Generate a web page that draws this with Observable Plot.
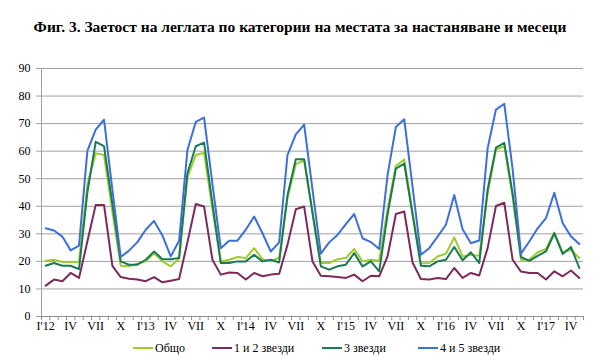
<!DOCTYPE html>
<html><head><meta charset="utf-8">
<script src="https://cdn.jsdelivr.net/npm/d3@7"></script>
<script src="https://cdn.jsdelivr.net/npm/@observablehq/plot@0.6"></script>
<style>
body{margin:0;background:#fff;font-family:"Liberation Serif",serif;color:#000;}
#wrap{position:relative;width:600px;height:362px;overflow:hidden;}
#title{position:absolute;top:18px;left:0;width:600px;text-align:center;font-weight:bold;font-size:15.5px;line-height:18px;font-family:"Liberation Serif",serif;}
#pct{position:absolute;top:42px;left:46px;font-size:11px;color:#333;font-family:"Liberation Serif",serif;}
#chart{position:absolute;top:40px;left:0;}
#chart svg, #chart svg text{font-family:"Liberation Serif",serif !important;}
.leg{position:absolute;top:340px;font-size:12px;display:flex;align-items:center;height:16px;font-family:"Liberation Serif",serif;}
.leg .sw{display:inline-block;width:20px;height:2.5px;margin-right:2px;}
</style></head>
<body><div id="wrap">
<div id="title">Фиг. 3. Заетост на леглата по категории на местата за настаняване и месеци</div>
<div id="pct">%</div>
<div id="chart"></div>
<div id="legend"></div>
</div>
<script>
const tickLabels = ["I'12","IV","VII","X","I'13","IV","VII","X","I'14","IV","VII","X","I'15","IV","VII","X","I'16","IV","VII","X","I'17","IV"];
const seriesNames = ["Общо","1 и 2 звезди","3 звезди","4 и 5 звезди"];
const colors = ["#9ccc2e","#7d2a5a","#1b7a52","#3d6fdc"];
const total = [
 20.2,20.6,19.8,19.8,19.8,48,59.2,58.6,38,18.4,18.2,19.2,
 20.0,23.0,20.0,18.2,21.0,50.5,58.6,59.4,39,20.0,20.6,21.6,
 21.2,24.8,20.8,20.0,21.4,43,55.3,56.7,38,19.4,19.4,20.8,
 21.2,24.5,20.0,20.6,20.2,39,54.6,57.0,38,19.2,19.4,21.8,
 22.8,28.7,21.8,22.4,22.0,44.5,60.6,61.8,43.5,20.6,20.6,23.3,
 24.5,30.5,23.3,24.2,21.2];
const stars12 = [
 11.2,13.4,12.8,15.8,14.0,27.2,40.5,40.5,18.4,14.3,13.7,13.4,
 12.8,14.3,12.4,13.0,13.6,26.9,40.8,39.9,20.6,15.2,16.0,15.8,
 13.4,15.8,14.6,15.2,15.5,26.0,38.9,39.9,20.0,14.8,14.6,14.3,
 14.0,15.2,12.8,14.8,14.6,21.8,37.2,38.1,19.6,13.6,13.4,14.0,
 13.6,17.6,14.0,15.8,14.9,24.8,40.1,41.3,20.6,16.3,15.8,15.8,
 13.4,16.4,14.6,16.7,14.0];
const stars3 = [
 18.4,19.4,18.4,18.4,17.2,45,63.4,61.8,41,20.0,18.8,18.8,
 20.6,23.6,20.8,20.8,21.2,52,61.8,63.1,41,19.4,19.4,20.0,
 20.0,22.4,20.0,20.6,19.6,44,57.1,57.1,37.5,18.2,17.0,18.2,
 18.8,23.0,18.2,20.0,16.4,37,53.7,55.5,37,18.4,18.2,20.0,
 20.6,25.2,20.4,23.3,19.4,46,61.3,63.0,44.5,21.6,20.2,22.0,
 23.6,30.2,22.7,25.2,17.6];
const stars45 = [
 32.0,31.2,29.0,24.0,25.7,60.1,67.8,71.4,46,21.6,23.9,27.0,
 31.5,34.7,29.4,21.8,27.5,60.4,70.6,72.2,48,24.8,27.5,27.5,
 31.5,36.3,30.2,23.6,26.9,58.6,66.1,69.6,46,22.8,26.9,29.6,
 33.5,37.2,28.4,27.0,24.5,51.3,68.8,71.6,47,22.4,24.8,29.0,
 33.3,44.1,31.7,26.6,27.6,61.0,75.1,77.2,53.5,22.8,27.2,32.0,
 35.7,44.9,33.9,29.0,26.3];

const allSeries = [total, stars12, stars3, stars45];
const nMonths = total.length;
const rows = [];
allSeries.forEach((arr, s) => arr.forEach((v, i) => rows.push({x: i + 0.5, v, s: seriesNames[s]})));

const plot = Plot.plot({
  width: 600, height: 296,
  marginTop: 28, marginBottom: 20, marginLeft: 41, marginRight: 17,
  style: {fontFamily: "'Liberation Serif', serif", fontSize: "12px", color: "#000", background: "#fff"},
  x: {type: "linear", domain: [0, nMonths], axis: null},
  y: {domain: [0, 90], axis: null},
  color: {domain: seriesNames, range: colors},
  marks: [
    Plot.gridY(d3.range(10, 100, 10), {stroke: "#a0a0a0", strokeOpacity: 1, strokeWidth: 1}),
    Plot.axisY(d3.range(0, 100, 10), {tickSize: 5, tickPadding: 6, stroke: "#a0a0a0", label: null, fill: "#000"}),
    Plot.ruleX([0], {y1: 0, y2: 90, stroke: "#a0a0a0"}),
    Plot.ruleY([0], {stroke: "#909090"}),
    Plot.axisX(d3.range(0, nMonths + 1), {tickSize: 4, tickFormat: () => "", stroke: "#909090", label: null}),
    Plot.axisX(d3.range(0, nMonths, 3).map(i => i + 0.5), {tickSize: 0, tickPadding: 5, tickFormat: d => tickLabels[Math.round((d - 0.5) / 3)], label: null, fill: "#000"}),
    Plot.line(rows, {x: "x", y: "v", z: "s", stroke: "s", strokeWidth: 2, curve: "linear"})
  ]
});
document.getElementById("chart").appendChild(plot);

const legPos = [133, 212, 322, 418];
const leg = document.getElementById("legend");
seriesNames.forEach((n, k) => {
  const d = document.createElement("div");
  d.className = "leg";
  d.style.left = legPos[k] + "px";
  d.innerHTML = `<span class="sw" style="background:${colors[k]}"></span><span>${n}</span>`;
  leg.appendChild(d);
});
</script>
</body></html>
